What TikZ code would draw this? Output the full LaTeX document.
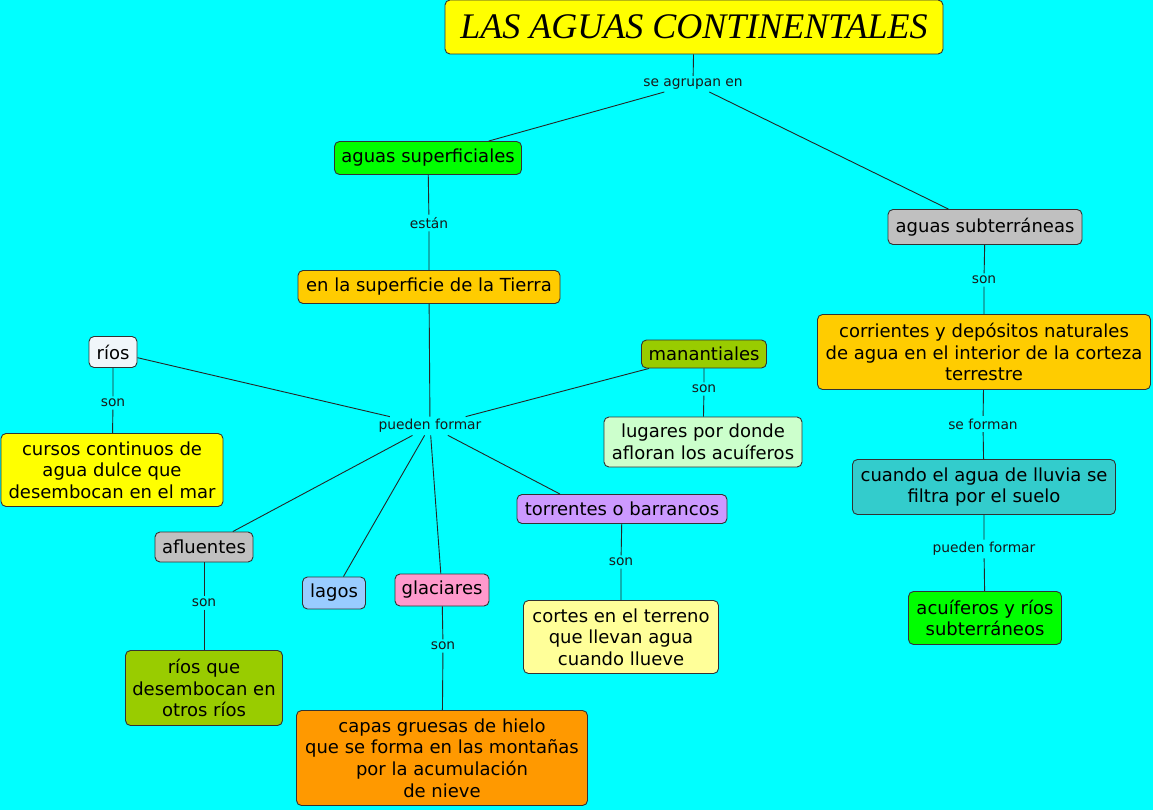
\documentclass[tikz,border=0pt]{standalone}
\usepackage{fontspec}
\setmainfont{DejaVu Sans}
\newfontfamily\titlefont{Liberation Serif}
\usetikzlibrary{positioning}
\definecolor{BgCyan}{HTML}{00FFFF}
\definecolor{TitYellow}{HTML}{FFFF00}
\definecolor{LeafGreen}{HTML}{00FF00}
\definecolor{Amber}{HTML}{FFCC00}
\definecolor{Olive}{HTML}{99CC00}
\definecolor{PaleMint}{HTML}{CCFFCC}
\definecolor{Lilac}{HTML}{CC99FF}
\definecolor{PaleYellow}{HTML}{FFFF99}
\definecolor{Silver}{HTML}{C0C0C0}
\definecolor{SkyBlue}{HTML}{99CCFF}
\definecolor{Rose}{HTML}{FF99CC}
\definecolor{Orange}{HTML}{FF9900}
\definecolor{Teal}{HTML}{33CCCC}
\definecolor{IceWhite}{HTML}{F0F6FA}

\begin{document}
\begin{tikzpicture}[
        x=1pt, y=-1pt,
        box/.style={draw=black!80, line width=0.9pt, rounded corners=5pt, align=center,
                    inner sep=0pt, font=\fontsize{18}{21.7}\selectfont},
        lab/.style={inner sep=2.5pt, text=black!90, font=\fontsize{13.8}{16}\selectfont},
        ln/.style={draw=black!85, line width=0.9pt},
      ]
        \useasboundingbox[fill=BgCyan] (0,0) rectangle (1153,810);
        % titulo
        \node[box, fill=TitYellow, minimum width=498, minimum height=54,
              font=\titlefont\itshape\fontsize{36}{40}\selectfont] (tit) at (694,27) {LAS AGUAS CONTINENTALES};
        \node[lab] (agr) at (693,84) {se agrupan en};
        % rama superficial
        \node[box, fill=LeafGreen, minimum width=187, minimum height=33] (sup) at (428,158) {aguas superficiales};
        \node[lab] (est) at (429,223) {están};
        \node[box, fill=Amber, minimum width=262, minimum height=33] (tie) at (429,287) {en la superficie de la Tierra};
        \node[lab] (pf) at (430,426) {pueden formar};
        % rios
        \node[box, fill=IceWhite, minimum width=48, minimum height=31] (rio) at (113,352) {ríos};
        \node[lab] (son1) at (113,403) {son};
        \node[box, fill=TitYellow, minimum width=222, minimum height=73] (cur) at (112,470) {cursos continuos de\\agua dulce que\\desembocan en el mar};
        % manantiales
        \node[box, fill=Olive, minimum width=125, minimum height=28] (man) at (704,354) {manantiales};
        \node[lab] (son2) at (704,389) {son};
        \node[box, fill=PaleMint, minimum width=198, minimum height=50] (lug) at (703,442) {lugares por donde\\afloran los acuíferos};
        % torrentes
        \node[box, fill=Lilac, minimum width=210, minimum height=29] (tor) at (622,509) {torrentes o barrancos};
        \node[lab] (son3) at (621,562) {son};
        \node[box, fill=PaleYellow, minimum width=195, minimum height=73] (cor) at (621,637) {cortes en el terreno\\que llevan agua\\cuando llueve};
        % afluentes
        \node[box, fill=Silver, minimum width=98, minimum height=30] (afl) at (204,547) {afluentes};
        \node[lab] (son4) at (204,603) {son};
        \node[box, fill=Olive, minimum width=157, minimum height=75] (rqd) at (204,688) {ríos que\\desembocan en\\otros ríos};
        % lagos y glaciares
        \node[box, fill=SkyBlue, minimum width=63, minimum height=32] (lag) at (334,593) {lagos};
        \node[box, fill=Rose, minimum width=94, minimum height=32] (gla) at (442,590) {glaciares};
        \node[lab] (son5) at (443,646) {son};
        \node[box, fill=Orange, minimum width=291, minimum height=95] (cap) at (442,758) {capas gruesas de hielo\\que se forma en las montañas\\por la acumulación\\de nieve};
        % rama subterranea
        \node[box, fill=Silver, minimum width=194, minimum height=35] (asub) at (985,227) {aguas subterráneas};
        \node[lab] (son6) at (984,280) {son};
        \node[box, fill=Amber, minimum width=333, minimum height=75] (cdn) at (984,352) {corrientes y depósitos naturales\\de agua en el interior de la corteza\\terrestre};
        \node[lab] (sfo) at (983,424) {se forman};
        \node[box, fill=Teal, minimum width=263, minimum height=55] (cal) at (984,487) {cuando el agua de lluvia se\\filtra por el suelo};
        \node[lab] (pf2) at (984,549) {pueden formar};
        \node[box, fill=LeafGreen, minimum width=153, minimum height=53] (acu) at (985,618) {acuíferos y ríos\\subterráneos};
        % conexiones
        \draw[ln] (tit) -- (agr);
        \draw[ln] (agr) -- (sup);
        \draw[ln] (agr) -- (asub);
        \draw[ln] (sup) -- (est) -- (tie) -- (pf);
        \draw[ln] (pf) -- (rio);
        \draw[ln] (pf) -- (man);
        \draw[ln] (pf) -- (afl);
        \draw[ln] (pf) -- (lag);
        \draw[ln] (pf) -- (gla);
        \draw[ln] (pf) -- ([xshift=-62pt]tor.north);
        \draw[ln] (rio) -- (son1) -- (cur);
        \draw[ln] (man) -- (son2) -- (lug);
        \draw[ln] (tor) -- (son3) -- (cor);
        \draw[ln] (afl) -- (son4) -- (rqd);
        \draw[ln] (gla) -- (son5) -- (cap);
        \draw[ln] (asub) -- (son6) -- (cdn) -- (sfo) -- (cal) -- (pf2) -- (acu);
      \end{tikzpicture}
\end{document}
